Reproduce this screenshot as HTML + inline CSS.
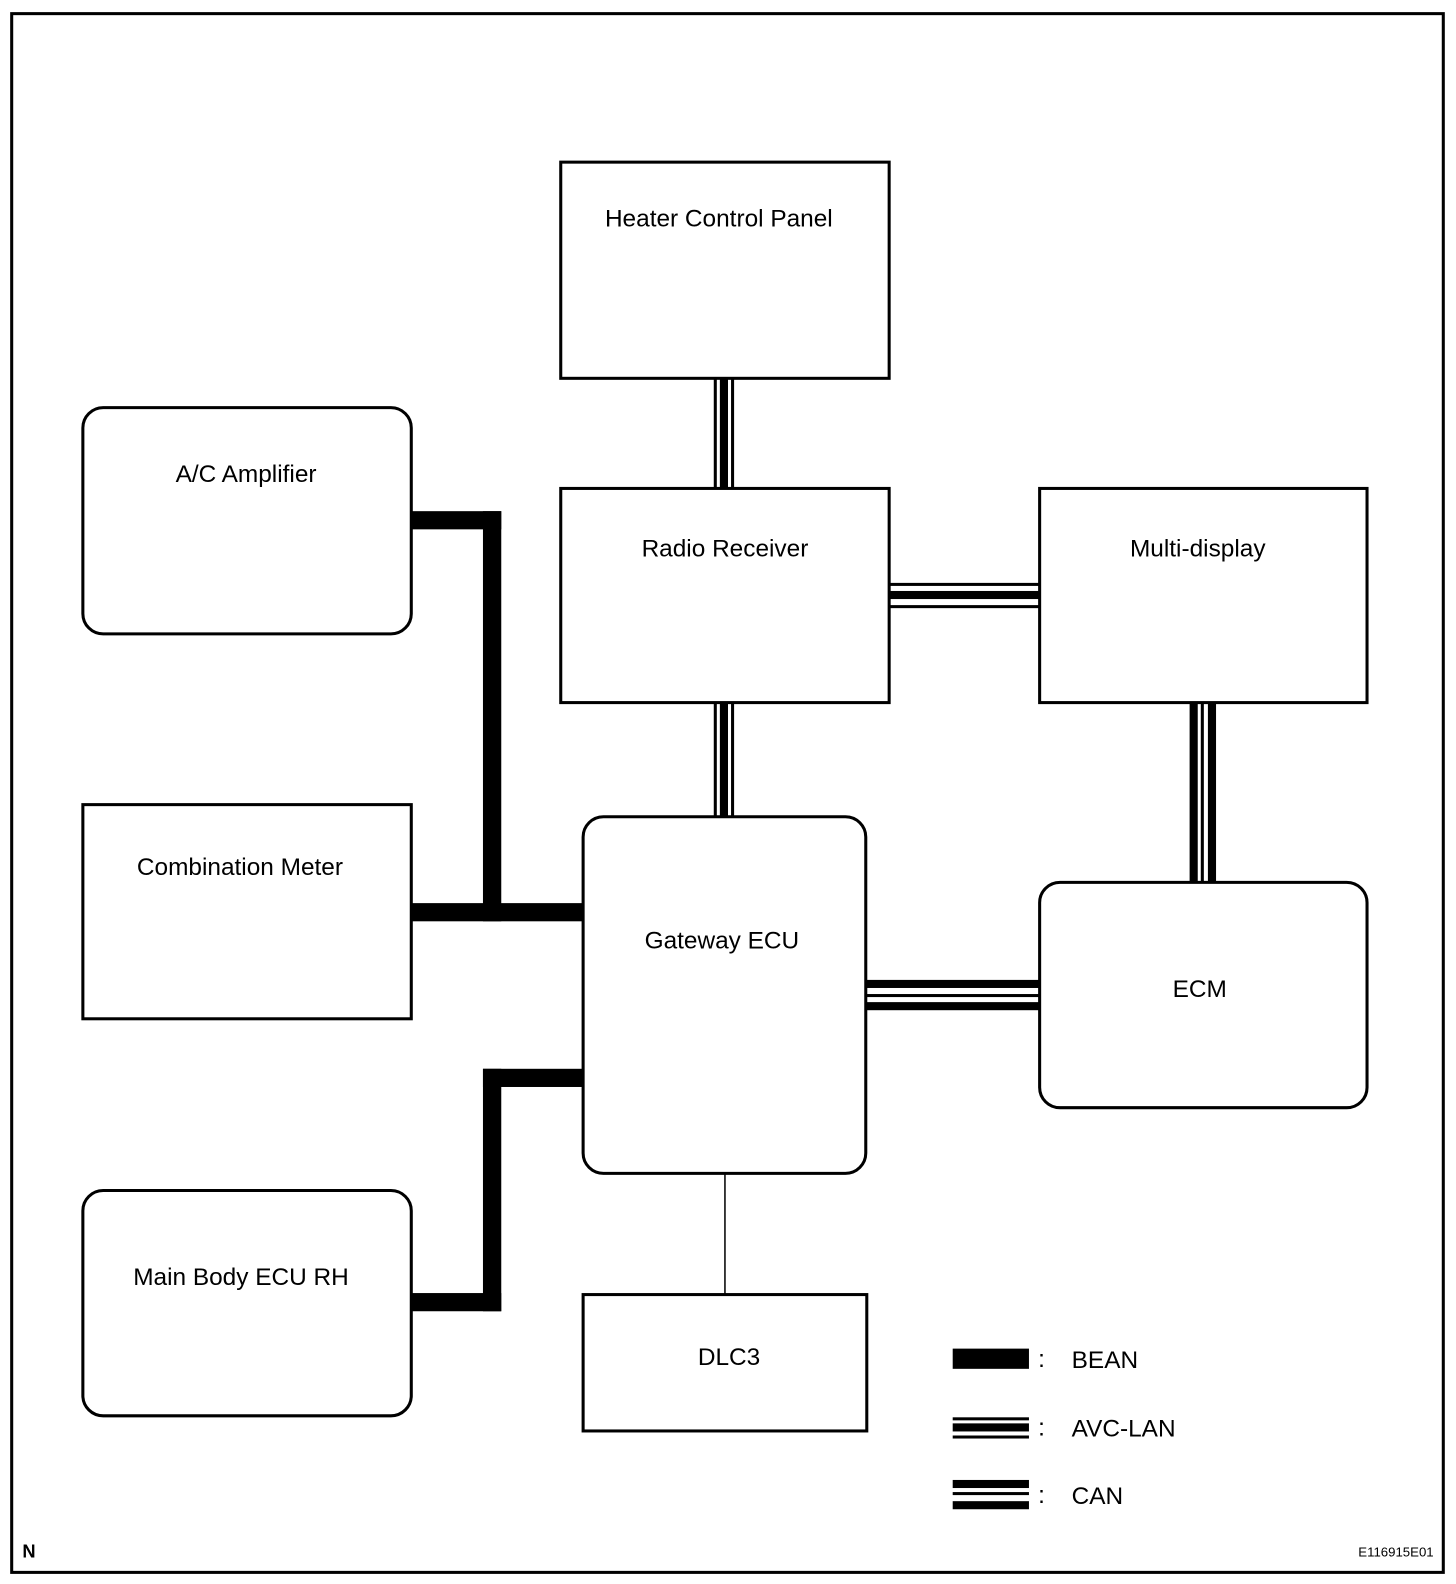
<!DOCTYPE html>
<html><head><meta charset="utf-8"><style>
html,body{margin:0;padding:0;background:#fff;}
svg{display:block;}
text{font-family:"Liberation Sans",Arial,sans-serif;font-size:24px;fill:#000;}
</style></head><body>
<svg width="1456" height="1584" viewBox="0 0 1432 1568" preserveAspectRatio="none" xmlns="http://www.w3.org/2000/svg">
<rect x="0" y="0" width="1432" height="1568" fill="#fff"/>
<rect x="11.5" y="13.5" width="1408" height="1543" fill="none" stroke="#000" stroke-width="3"/>
<g fill="none" stroke="#000" stroke-width="3">
<rect x="551.5" y="160.5" width="323" height="214"/>
<rect x="551.5" y="483.5" width="323" height="212"/>
<rect x="1022.5" y="483.5" width="322" height="212"/>
<rect x="81.5" y="403.5" width="323" height="224" rx="20"/>
<rect x="81.5" y="796.5" width="323" height="212"/>
<rect x="573.5" y="808.5" width="278" height="353" rx="20"/>
<rect x="1022.5" y="873.5" width="322" height="223" rx="20"/>
<rect x="81.5" y="1178.5" width="323" height="223" rx="20"/>
<rect x="573.5" y="1281.5" width="279" height="135"/>
</g>
<line x1="713" y1="1162" x2="713" y2="1281" stroke="#000" stroke-width="1.5"/>
<!-- BEAN -->
<g fill="#000">
<rect x="405" y="506" width="88" height="18"/>
<rect x="475" y="506" width="18" height="406"/>
<rect x="405" y="894" width="168" height="18"/>
<rect x="475" y="1058" width="98" height="18"/>
<rect x="475" y="1058" width="18" height="240"/>
<rect x="405" y="1280" width="88" height="18"/>
<!-- AVC heater-radio -->
<rect x="702" y="375" width="3" height="108"/>
<rect x="708" y="375" width="8" height="108"/>
<rect x="719" y="375" width="3" height="108"/>
<!-- AVC radio-gateway -->
<rect x="702" y="696" width="3" height="112"/>
<rect x="708" y="696" width="8" height="112"/>
<rect x="719" y="696" width="3" height="112"/>
<!-- AVC radio-multi -->
<rect x="875" y="577" width="147" height="3"/>
<rect x="875" y="585" width="147" height="8"/>
<rect x="875" y="599" width="147" height="3"/>
<!-- CAN multi-ECM -->
<rect x="1170" y="696" width="8" height="177"/>
<rect x="1181" y="696" width="3" height="177"/>
<rect x="1188" y="696" width="8" height="177"/>
<!-- CAN gateway-ECM -->
<rect x="852" y="970" width="170" height="8"/>
<rect x="852" y="984" width="170" height="3"/>
<rect x="852" y="992" width="170" height="8"/>
<!-- legend -->
<rect x="937" y="1335" width="75" height="20"/>
<rect x="937" y="1403" width="75" height="3"/>
<rect x="937" y="1409" width="75" height="8"/>
<rect x="937" y="1421" width="75" height="3"/>
<rect x="937" y="1465" width="75" height="8"/>
<rect x="937" y="1477" width="75" height="3"/>
<rect x="937" y="1486" width="75" height="8"/>
</g>
<g text-anchor="middle">
<text x="707" y="224">Heater Control Panel</text>
<text x="713" y="551">Radio Receiver</text>
<text x="1178" y="551">Multi-display</text>
<text x="242" y="477">A/C Amplifier</text>
<text x="236" y="866">Combination Meter</text>
<text x="710" y="939">Gateway ECU</text>
<text x="1180" y="987">ECM</text>
<text x="237" y="1272">Main Body ECU RH</text>
<text x="717" y="1351">DLC3</text>
</g>
<text x="1021" y="1353">:</text>
<text x="1054" y="1354">BEAN</text>
<text x="1021" y="1421">:</text>
<text x="1054" y="1422">AVC-LAN</text>
<text x="1021" y="1488">:</text>
<text x="1054" y="1489">CAN</text>
<text x="22" y="1542" style="font-size:18px;font-weight:bold">N</text>
<text x="1410" y="1541" text-anchor="end" style="font-size:13px">E116915E01</text>
</svg>
</body></html>
